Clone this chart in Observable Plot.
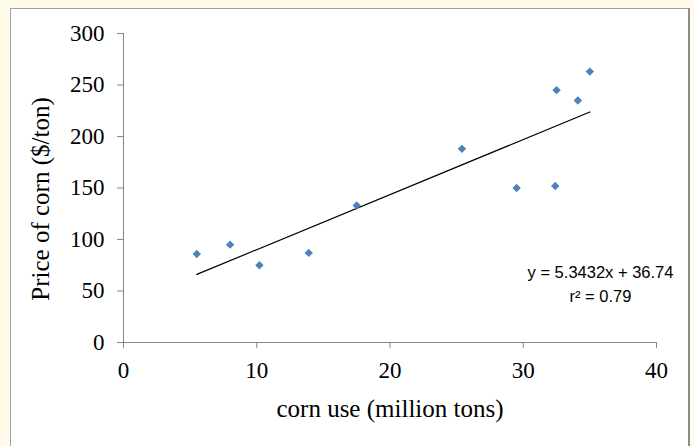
<!DOCTYPE html>
<html>
<head>
<meta charset="utf-8">
<script src="https://cdn.jsdelivr.net/npm/d3@7"></script>
<script src="https://cdn.jsdelivr.net/npm/@observablehq/plot@0.6"></script>
<style>
  html, body { margin: 0; padding: 0; background: #fffbe8; width: 694px; height: 446px; overflow: hidden; }
  #frame {
    position: absolute; left: 10px; top: 8px; width: 677px; height: 450px;
    background: #ffffff; border: 1px solid #a3a3a3; border-right: 2px solid #8c8c8c;
  }
</style>
</head>
<body>
<div id="frame"></div>
<script>
const cornUse = [5.5, 8.0, 10.2, 13.9, 17.5, 25.4, 29.5, 32.4, 32.5, 34.1, 35.0];
const price   = [86, 95, 75, 87, 133, 188, 150, 152, 245, 235, 263];
const trendX  = [5.5, 35.0];
const trendY  = [66.1, 223.8];
const xTicks  = [0, 10, 20, 30, 40];
const yTicks  = [0, 50, 100, 150, 200, 250, 300];
const equationLabels = ["y = 5.3432x + 36.74", "r\u00b2 = 0.79"];
const xTitle = "corn use (million tons)";
const yTitle = "Price of corn ($/ton)";

const points = cornUse.map((x, i) => ({x, y: price[i]}));
const trend = trendX.map((x, i) => ({x, y: trendY[i]}));

const axisColor = "#868686";
const serif = "'Liberation Serif', 'Times New Roman', serif";
const sans = "'Liberation Sans', Arial, sans-serif";

const chart = Plot.plot({
  width: 677,
  height: 437,
  marginLeft: 112,
  marginRight: 32,
  marginTop: 24,
  marginBottom: 104,
  style: {fontFamily: serif, fontSize: "23px", background: "transparent", color: "black"},
  x: {domain: [0, 40]},
  y: {domain: [0, 300]},
  marks: [
    Plot.ruleX([0], {stroke: axisColor, strokeWidth: 1}),
    Plot.ruleY([0], {stroke: axisColor, strokeWidth: 1}),
    Plot.axisY(yTicks, {tickSize: 6, tickPadding: 13, stroke: axisColor, fill: "black", label: null, fontSize: 23, fontFamily: serif}),
    Plot.axisX(xTicks, {tickSize: 6, tickPadding: 13, stroke: axisColor, fill: "black", label: null, fontSize: 23, fontFamily: serif}),
    Plot.line(trend, {x: "x", y: "y", stroke: "black", strokeWidth: 1.2}),
    Plot.dot(points, {x: "x", y: "y", symbol: "diamond2", r: 3.8, fill: "#4f81bd", stroke: "none"}),
    Plot.text([equationLabels[0]], {frameAnchor: "bottom-right", dx: -56, dy: -70, textAnchor: "middle", lineAnchor: "middle", fontFamily: sans, fontSize: 16.5, fill: "black"}),
    Plot.text([equationLabels[1]], {frameAnchor: "bottom-right", dx: -56, dy: -46, textAnchor: "middle", lineAnchor: "middle", fontFamily: sans, fontSize: 16.5, fill: "black"}),
    Plot.text([xTitle], {frameAnchor: "bottom", dy: 66, lineAnchor: "middle", fontFamily: serif, fontSize: 25, fill: "black"}),
    Plot.text([yTitle], {frameAnchor: "left", dx: -83, dy: 11, rotate: -90, textAnchor: "middle", lineAnchor: "middle", fontFamily: serif, fontSize: 25, fill: "black"})
  ]
});
document.getElementById("frame").appendChild(chart);
</script>
</body>
</html>
